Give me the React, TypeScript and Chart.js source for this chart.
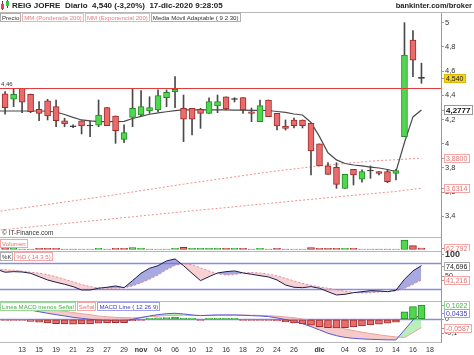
import React, { useEffect, useRef } from 'react';
import { Chart, registerables } from 'chart.js';

Chart.register(...registerables);
const FONT = '"Liberation Sans", Arial, sans-serif';
Chart.defaults.font.family = FONT;

// ---------- data ----------
const calendar = [
  '2020-10-08', '2020-10-09', '2020-10-12', '2020-10-13', '2020-10-14', '2020-10-15', '2020-10-16',
  '2020-10-19', '2020-10-20', '2020-10-21', '2020-10-22', '2020-10-23', '2020-10-26', '2020-10-27',
  '2020-10-28', '2020-10-29', '2020-10-30', '2020-11-02', '2020-11-03', '2020-11-04', '2020-11-05',
  '2020-11-06', '2020-11-09', '2020-11-10', '2020-11-11', '2020-11-12', '2020-11-13', '2020-11-16',
  '2020-11-17', '2020-11-18', '2020-11-19', '2020-11-20', '2020-11-23', '2020-11-24', '2020-11-25',
  '2020-11-26', '2020-11-27', '2020-11-30', '2020-12-01', '2020-12-02', '2020-12-03', '2020-12-04',
  '2020-12-07', '2020-12-08', '2020-12-09', '2020-12-10', '2020-12-11', '2020-12-14', '2020-12-15',
  '2020-12-16', '2020-12-17', '2020-12-18',
];

const open = [
  4.40, 4.411, 4.367, 4.458, 4.408, 4.284, 4.355, 4.306, 4.188, 4.140, 4.188, 4.146, 4.152, 4.298,
  4.229, 4.036, 4.218, 4.237, 4.270, 4.279, 4.380, 4.430, 4.293, 4.293, 4.284, 4.251, 4.312, 4.388,
  4.365, 4.380, 4.264, 4.182, 4.361, 4.251, 4.146, 4.196, 4.196, 4.169, 3.998, 3.816, 3.805, 3.631,
  3.788, 3.706, 3.774, 3.769, 3.769, 3.755, 4.058, 4.857, 4.540,
];
const high = [
  4.45, 4.430, 4.450, 4.458, 4.410, 4.347, 4.367, 4.361, 4.210, 4.155, 4.190, 4.188, 4.361, 4.300,
  4.229, 4.155, 4.458, 4.438, 4.388, 4.444, 4.444, 4.554, 4.402, 4.293, 4.293, 4.378, 4.402, 4.388,
  4.380, 4.380, 4.295, 4.361, 4.361, 4.251, 4.196, 4.212, 4.196, 4.169, 3.998, 3.843, 3.843, 3.747,
  3.788, 3.783, 3.816, 3.769, 3.783, 3.788, 5.000, 4.934, 4.665,
];
const low = [
  4.36, 4.243, 4.306, 4.256, 4.256, 4.190, 4.196, 4.140, 4.140, 4.132, 4.080, 4.058, 4.140, 4.149,
  4.003, 4.008, 4.140, 4.223, 4.251, 4.264, 4.306, 4.298, 4.017, 4.072, 4.127, 4.251, 4.256, 4.279,
  4.345, 4.251, 4.182, 4.182, 4.223, 4.113, 4.113, 4.130, 4.130, 3.741, 3.816, 3.747, 3.631, 3.631,
  3.659, 3.683, 3.714, 3.741, 3.678, 3.700, 4.058, 4.554, 4.499,
];
const close = [
  4.42, 4.298, 4.408, 4.342, 4.264, 4.251, 4.229, 4.190, 4.163, 4.140, 4.146, 4.146, 4.237, 4.149,
  4.107, 4.091, 4.293, 4.306, 4.298, 4.397, 4.425, 4.450, 4.202, 4.202, 4.251, 4.347, 4.347, 4.287,
  4.365, 4.279, 4.251, 4.314, 4.223, 4.146, 4.127, 4.149, 4.149, 3.940, 3.816, 3.747, 3.664, 3.747,
  3.741, 3.769, 3.774, 3.755, 3.686, 3.777, 4.733, 4.690, 4.540,
];
const volume = [
  20000, 60000, 60000, 15000, 15000, 60000, 60000, 60000, 15000, 15000, 15000, 15000, 60000, 20000,
  60000, 60000, 90000, 60000, 15000, 15000, 20000, 60000, 100000, 60000, 60000, 60000, 60000, 60000,
  60000, 60000, 20000, 60000, 15000, 60000, 15000, 15000, 15000, 90000, 60000, 60000, 60000, 60000,
  60000, 20000, 15000, 15000, 15000, 15000, 440000, 180000, 62792,
];
const wma200 = [
  3.438, 3.448, 3.458, 3.468, 3.478, 3.488, 3.498, 3.508, 3.518, 3.528, 3.538, 3.548, 3.558, 3.568,
  3.579, 3.590, 3.601, 3.612, 3.622, 3.633, 3.644, 3.655, 3.665, 3.676, 3.686, 3.696, 3.706, 3.716,
  3.726, 3.736, 3.746, 3.756, 3.765, 3.775, 3.783, 3.791, 3.800, 3.808, 3.816, 3.824, 3.830, 3.836,
  3.843, 3.849, 3.855, 3.861, 3.864, 3.867, 3.872, 3.876, 3.880,
];
const ema200 = [
  3.284, 3.291, 3.298, 3.305, 3.312, 3.319, 3.326, 3.333, 3.340, 3.347, 3.354, 3.361, 3.368, 3.375,
  3.382, 3.389, 3.396, 3.403, 3.410, 3.417, 3.424, 3.431, 3.438, 3.445, 3.452, 3.459, 3.465, 3.472,
  3.479, 3.486, 3.493, 3.500, 3.506, 3.513, 3.520, 3.527, 3.534, 3.540, 3.547, 3.554, 3.560, 3.567,
  3.573, 3.580, 3.586, 3.593, 3.599, 3.605, 3.615, 3.623, 3.6314,
];
const ama = [
  4.270, 4.270, 4.270, 4.270, 4.270, 4.270, 4.268, 4.262, 4.241, 4.217, 4.196, 4.188, 4.182, 4.182,
  4.182, 4.184, 4.208, 4.225, 4.243, 4.254, 4.264, 4.273, 4.279, 4.280, 4.280, 4.280, 4.279, 4.279,
  4.278, 4.277, 4.276, 4.275, 4.274, 4.266, 4.258, 4.245, 4.237, 4.175, 4.058, 3.925, 3.866, 3.836,
  3.824, 3.816, 3.807, 3.799, 3.787, 3.770, 4.010, 4.221, 4.2777,
];
const stochK = [
  66, 59.4, 60.7, 60.0, 57.0, 49.2, 41.6, 36.3, 31.6, 26.1, 18.5, 18.5, 22.4, 24.7, 27.7, 23.8, 40.0,
  57.0, 68.6, 74.6, 85.5, 90.1, 74.6, 57.0, 40.0, 49.2, 57.7, 60.7, 62.4, 57.7, 54.7, 51.5, 48.5,
  41.6, 30.0, 24.7, 23.8, 26.1, 22.4, 14.5, 6.9, 8.5, 12.2, 14.5, 16.9, 16.2, 14.5, 17.8, 43.2, 62.4,
  74.696,
];
const stochD = [
  67, 65, 64, 62, 59.5, 57.3, 53.7, 48.8, 43.1, 37.0, 30.8, 26.2, 23.4, 22.0, 22.4, 23.4, 27.7, 34.6,
  43.4, 52.8, 65.1, 75.2, 78.7, 76.4, 69.4, 62.2, 55.7, 52.9, 54.0, 57.5, 58.6, 57.4, 55.0, 50.8,
  45.3, 39.3, 33.7, 29.2, 25.4, 22.3, 18.7, 15.7, 12.9, 11.3, 11.8, 13.7, 14.9, 16.0, 21.7, 30.8,
  41.216,
];
const macdLine = [
  0.097, 0.09, 0.082, 0.075, 0.066, 0.054, 0.043, 0.033, 0.024, 0.014, 0.007, 0.0, -0.005, -0.008,
  -0.01, -0.012, 0.0, 0.012, 0.024, 0.033, 0.04, 0.043, 0.038, 0.031, 0.026, 0.029, 0.031, 0.031,
  0.031, 0.029, 0.026, 0.024, 0.019, 0.01, -0.002, -0.014, -0.031, -0.052, -0.076, -0.1, -0.117,
  -0.129, -0.136, -0.14, -0.143, -0.145, -0.147, -0.147, -0.076, -0.005, 0.0435,
];
const macdSignal = [
  0.101, 0.095, 0.088, 0.083, 0.081, 0.074, 0.069, 0.064, 0.057, 0.048, 0.040, 0.033, 0.023, 0.018,
  0.014, 0.012, 0.010, 0.014, 0.019, 0.023, 0.027, 0.028, 0.030, 0.027, 0.028, 0.028, 0.029, 0.029,
  0.030, 0.030, 0.029, 0.028, 0.026, 0.022, 0.017, 0.011, 0.002, -0.010, -0.024, -0.040, -0.055,
  -0.069, -0.081, -0.092, -0.102, -0.111, -0.119, -0.126, -0.130, -0.095, -0.0587,
];
const macdHist = [
  -0.004, -0.005, -0.006, -0.008, -0.015, -0.02, -0.026, -0.031, -0.033, -0.034, -0.033, -0.033,
  -0.028, -0.026, -0.024, -0.024, -0.01, -0.002, 0.005, 0.01, 0.013, 0.015, 0.008, 0.004, -0.002,
  0.001, 0.002, 0.002, 0.001, -0.001, -0.003, -0.004, -0.007, -0.012, -0.019, -0.025, -0.033,
  -0.042, -0.052, -0.06, -0.062, -0.06, -0.055, -0.048, -0.041, -0.034, -0.028, -0.021, 0.054, 0.09,
  0.1022,
];
const resistanceLevel = 4.46;
const priceTicks = [3.4, 3.6, 3.8, 4, 4.2, 4.4, 4.6, 4.8, 5];
const stochTicks = [50, 100];
const stochBands = [20, 80];
const macdTicks = [-0.1, 0, 0.1];
const axisDates = [
  '2020-10-13', '2020-10-15', '2020-10-19', '2020-10-21', '2020-10-23', '2020-10-27', '2020-10-29',
  '2020-11-02', '2020-11-04', '2020-11-06', '2020-11-10', '2020-11-12', '2020-11-16', '2020-11-18',
  '2020-11-20', '2020-11-24', '2020-11-26', '2020-12-01', '2020-12-04', '2020-12-08', '2020-12-10',
  '2020-12-14', '2020-12-16', '2020-12-18',
];
const axisLabels = [
  '13', '15', '19', '21', '23', '27', '29', 'nov', '04', '06', '10', '12', '16', '18', '20', '24', '26',
  'dic', '04', '08', '10', '14', '16', '18',
];

// ---------- layout constants ----------
const W = 474;
const AXIS_W = 33;
const X_MIN = 0.4;
const X_MAX = 52.3;
const RED = '#e96b6b';
const RED_B = '#9c2b2b';
const GREEN = '#4fd74f';
const GREEN_B = '#268a26';
const DOJI = '#333333';
const AXIS_C = '#9a9a9a';
const SEP_C = '#b8b8b8';

const comma = (v: number, d: number) => v.toFixed(d).replace('.', ',');
const tickFmt = (v: number) => String(Math.round(v * 100) / 100).replace('.', ',');
const pts = (arr: number[]) => arr.map((y, i) => ({ x: i, y }));

const hiddenX = {
  type: 'linear', min: X_MIN, max: X_MAX, offset: false, bounds: 'data', display: false,
  grid: { display: false, offset: false },
};

function yAxis(min: number, max: number, ticks: number[], font: any) {
  return {
    type: 'linear', position: 'right', min, max, bounds: 'data',
    afterFit: (s: any) => { s.width = AXIS_W; s.paddingTop = 0; s.paddingBottom = 0; },
    afterBuildTicks: (s: any) => { s.ticks = ticks.map((v) => ({ value: v })); },
    border: { display: true, color: AXIS_C, width: 1 },
    grid: { display: true, drawOnChartArea: false, drawTicks: true, tickLength: 3, color: AXIS_C },
    ticks: {
      display: ticks.length > 0, autoSkip: false, padding: 1, color: '#333',
      font, callback: (v: number) => tickFmt(v),
    },
  };
}

function baseOptions(scales: any) {
  return {
    responsive: false, animation: false, devicePixelRatio: 1, events: [],
    layout: { padding: 0 },
    plugins: { legend: { display: false }, tooltip: { enabled: false } },
    scales,
  };
}

type TagSpec = { value: number; text: string; bg: string; border: string; color: string; weight?: string; size?: number };
function tagsPlugin(scaleId: string, tags: TagSpec[]) {
  return {
    id: 'tags_' + scaleId,
    afterDraw(chart: any) {
      const { ctx, chartArea } = chart;
      const scale = chart.scales[scaleId];
      tags.forEach((t) => {
        const size = t.size ?? 7;
        ctx.save();
        ctx.font = `${t.weight ?? 'normal'} ${size}px ${FONT}`;
        const w = Math.ceil(ctx.measureText(t.text).width) + 4;
        const h = Math.round(size + 2);
        const cy = Math.round(scale.getPixelForValue(t.value));
        const x = chartArea.right + 3;
        const y = cy - Math.floor(h / 2);
        ctx.strokeStyle = AXIS_C;
        ctx.lineWidth = 1;
        ctx.beginPath();
        ctx.moveTo(chartArea.right, cy + 0.5);
        ctx.lineTo(x, cy + 0.5);
        ctx.stroke();
        ctx.fillStyle = t.bg;
        ctx.fillRect(x, y, w, h);
        if (t.border !== 'none') {
          ctx.strokeStyle = t.border;
          ctx.strokeRect(x + 0.5, y + 0.5, w - 1, h - 1);
        }
        ctx.fillStyle = t.color;
        ctx.textAlign = 'left';
        ctx.textBaseline = 'middle';
        ctx.fillText(t.text, x + 2, y + h / 2 + 0.5);
        ctx.restore();
      });
    },
  };
}

const topRule = {
  id: 'topRule',
  afterDraw(chart: any) {
    const { ctx, chartArea: a } = chart;
    ctx.save();
    ctx.strokeStyle = SEP_C;
    ctx.lineWidth = 1;
    ctx.beginPath();
    ctx.moveTo(a.left, a.top + 0.5);
    ctx.lineTo(a.right, a.top + 0.5);
    ctx.stroke();
    ctx.restore();
  },
};

function levelLines(scaleId: string, values: number[], color: string, width: number) {
  return {
    id: 'levels_' + scaleId,
    beforeDatasetsDraw(chart: any) {
      const { ctx, chartArea: a } = chart;
      const s = chart.scales[scaleId];
      ctx.save();
      ctx.strokeStyle = color;
      ctx.lineWidth = width;
      values.forEach((v) => {
        const y = Math.round(s.getPixelForValue(v)) + 0.5;
        ctx.beginPath();
        ctx.moveTo(a.left, y);
        ctx.lineTo(a.right, y);
        ctx.stroke();
      });
      ctx.restore();
    },
  };
}

const last = (a: number[]) => a[a.length - 1];
const bodyFill = close.map((c, i) => (c > open[i] ? GREEN : c < open[i] ? RED : DOJI));
const bodyBorder = close.map((c, i) => (c > open[i] ? GREEN_B : c < open[i] ? RED_B : DOJI));
const volUp = close.map((c, i) => (i === 0 ? c >= open[i] : c >= close[i - 1]));

// ---------- main price panel ----------
function buildMain() {
  const mainDecor = {
    id: 'mainDecor',
    afterDatasetsDraw(chart: any) {
      const { ctx, chartArea: a } = chart;
      const y = Math.round(chart.scales.y.getPixelForValue(resistanceLevel)) + 0.5;
      ctx.save();
      ctx.strokeStyle = '#e23b3b';
      ctx.lineWidth = 1;
      ctx.beginPath();
      ctx.moveTo(a.left, y);
      ctx.lineTo(a.right, y);
      ctx.stroke();
      ctx.fillStyle = '#333';
      ctx.font = `6px ${FONT}`;
      ctx.textBaseline = 'bottom';
      ctx.fillText(comma(resistanceLevel, 2), 1, y - 1);
      ctx.font = `6.5px ${FONT}`;
      ctx.fillText('\u00a9 IT-Finance.com', 2, a.bottom - 1);
      ctx.restore();
    },
  };
  return {
    type: 'bar',
    data: {
      datasets: [
        { type: 'line', data: pts(wma200), borderColor: '#f08e8e', borderWidth: 1, borderDash: [2, 2], pointRadius: 0, order: 5 },
        { type: 'line', data: pts(ema200), borderColor: '#f08e8e', borderWidth: 1, borderDash: [2, 2], pointRadius: 0, order: 5 },
        { type: 'line', data: pts(ama), borderColor: '#4a4a4a', borderWidth: 1.2, pointRadius: 0, order: 4 },
        {
          type: 'bar', data: low.map((l, i) => ({ x: i, y: [l, high[i]] })), backgroundColor: '#4a4a4a',
          barThickness: 1, grouped: false, order: 2,
        },
        {
          type: 'bar', data: open.map((o, i) => ({ x: i, y: [o, close[i]] })), backgroundColor: bodyFill,
          borderColor: bodyBorder, borderWidth: 1, borderSkipped: false, barThickness: 6, minBarLength: 1,
          grouped: false, order: 1,
        },
      ],
    },
    options: baseOptions({
      x: hiddenX,
      y: yAxis(3.229, 5.088, priceTicks, { size: 7.5 }),
    }),
    plugins: [
      mainDecor,
      tagsPlugin('y', [
        { value: last(close), text: comma(last(close), 3), bg: '#f6d21e', border: '#e0b800', color: '#222', size: 7 },
        { value: last(ama), text: comma(last(ama), 4), bg: '#fff', border: '#999', color: '#111', weight: 'bold', size: 8 },
        { value: last(wma200), text: comma(last(wma200), 4), bg: '#fff', border: '#f2a6a6', color: '#e07474', size: 7 },
        { value: last(ema200), text: comma(last(ema200), 4), bg: '#fff', border: '#f2a6a6', color: '#e07474', size: 7 },
      ]),
    ],
  };
}

// ---------- volume panel ----------
function buildVolume() {
  return {
    type: 'bar',
    data: {
      datasets: [
        {
          data: pts(volume), backgroundColor: volUp.map((u) => (u ? GREEN : RED)),
          borderColor: volUp.map((u) => (u ? GREEN_B : RED_B)), borderWidth: 1, borderSkipped: false,
          barThickness: 7, grouped: false,
        },
      ],
    },
    options: baseOptions({ x: hiddenX, y: yAxis(-70000, 583750, [], { size: 7 }) }),
    plugins: [
      topRule,
      tagsPlugin('y', [
        { value: last(volume), text: last(volume).toLocaleString('en-US'), bg: '#fff', border: '#f2a6a6', color: '#e07474', size: 7 },
      ]),
    ],
  };
}

// ---------- stochastic panel ----------
function buildStoch() {
  return {
    type: 'line',
    data: {
      datasets: [
        {
          data: pts(stochK), borderColor: '#1c1c4e', borderWidth: 1, pointRadius: 0, order: 1,
          fill: { target: 1, above: 'rgba(112,112,206,0.6)', below: 'rgba(241,166,166,0.5)' },
        },
        { data: pts(stochD), borderColor: '#ec8a8a', borderWidth: 1, borderDash: [2, 2], pointRadius: 0, order: 2, fill: false },
      ],
    },
    options: baseOptions({
      x: hiddenX,
      y: yAxis(-6.99, 108.39, stochTicks, (c: any) =>
        c.tick && c.tick.value === 100 ? { size: 9, weight: 'bold' } : { size: 7 }),
    }),
    plugins: [
      topRule,
      levelLines('y', stochBands, '#8a8ae6', 1.5),
      tagsPlugin('y', [
        { value: last(stochK), text: comma(last(stochK), 3), bg: '#fff', border: '#aaa', color: '#222', size: 7 },
        { value: last(stochD), text: comma(last(stochD), 3), bg: '#fff', border: '#f2a6a6', color: '#e07474', size: 7 },
      ]),
    ],
  };
}

// ---------- MACD panel ----------
function buildMacd() {
  const bottomX = {
    type: 'linear', min: X_MIN, max: X_MAX, offset: false, bounds: 'data', position: 'bottom',
    afterFit: (s: any) => { s.height = 13; s.paddingLeft = 0; s.paddingRight = 0; },
    afterBuildTicks: (s: any) => { s.ticks = axisDates.map((d) => ({ value: calendar.indexOf(d) })); },
    border: { display: true, color: SEP_C },
    grid: { display: true, drawOnChartArea: false, drawTicks: false, offset: false, color: SEP_C },
    ticks: {
      autoSkip: false, maxRotation: 0, minRotation: 0, padding: 4, color: '#333',
      font: (c: any) => ({ size: 7, weight: c.index !== undefined && (axisLabels[c.index] === 'nov' || axisLabels[c.index] === 'dic') ? 'bold' : 'normal' }),
      callback: (_v: number, i: number) => axisLabels[i],
    },
  };
  return {
    type: 'bar',
    data: {
      datasets: [
        {
          type: 'bar', data: pts(macdHist), backgroundColor: macdHist.map((h) => (h >= 0 ? GREEN : RED)),
          borderColor: macdHist.map((h) => (h >= 0 ? GREEN_B : RED_B)), borderWidth: 1, borderSkipped: false,
          barThickness: 7, minBarLength: 1, grouped: false, order: 0,
        },
        {
          type: 'line', data: pts(macdLine), borderColor: '#5656d6', borderWidth: 1, pointRadius: 0, order: 1,
          fill: { target: 2, above: 'rgba(140,226,140,0.6)', below: 'rgba(241,166,166,0.6)' },
        },
        { type: 'line', data: pts(macdSignal), borderColor: '#f09a9a', borderWidth: 1, pointRadius: 0, order: 2, fill: false },
      ],
    },
    options: baseOptions({ x: bottomX, y: yAxis(-0.1621, 0.1307, macdTicks, { size: 7 }) }),
    plugins: [
      topRule,
      levelLines('y', [0], '#8a8ae6', 1.5),
      tagsPlugin('y', [
        { value: last(macdHist), text: comma(last(macdHist), 4), bg: '#fff', border: '#9bd89b', color: '#44b044', size: 7 },
        { value: last(macdLine), text: comma(last(macdLine), 4), bg: '#fff', border: '#a0a0e8', color: '#3c3cc0', size: 7 },
        { value: last(macdSignal), text: comma(last(macdSignal), 4), bg: '#fff', border: '#f2a6a6', color: '#e07474', size: 7 },
      ]),
    ],
  };
}

function ChartCanvas({ top, height, build }: { top: number; height: number; build: () => any }) {
  const ref = useRef<HTMLCanvasElement>(null);
  useEffect(() => {
    const chart = new Chart(ref.current as HTMLCanvasElement, build());
    return () => chart.destroy();
  }, []);
  return (
    <canvas
      ref={ref}
      width={W}
      height={height}
      style={{ position: 'absolute', left: 0, top, width: W, height, display: 'block' }}
    />
  );
}

function Box({ color, border, children }: any) {
  return (
    <div
      style={{
        height: 7, lineHeight: '7px', padding: '0 1px', border: `1px solid ${border}`, color,
        background: '#fff', fontSize: 6.1, whiteSpace: 'pre', fontFamily: FONT, flex: 'none',
      }}
    >
      {children}
    </div>
  );
}

function Row({ left, top, children }: any) {
  return (
    <div style={{ position: 'absolute', left, top, display: 'flex', gap: 1 }}>{children}</div>
  );
}

export default function App() {
  return (
    <div
      style={{
        position: 'fixed', left: 0, top: 0, width: W, height: 355, background: '#fff',
        overflow: 'hidden', fontFamily: FONT,
      }}
    >
      <ChartCanvas top={12} height={225} build={buildMain} />
      <ChartCanvas top={237} height={14} build={buildVolume} />
      <ChartCanvas top={251} height={50} build={buildStoch} />
      <ChartCanvas top={301} height={54} build={buildMacd} />

      <div style={{ position: 'absolute', left: 0, top: 12, width: W, height: 1, background: SEP_C }} />
      <div style={{ position: 'absolute', left: 2, top: 1, width: 1, height: 9, background: '#444' }} />
      <div style={{ position: 'absolute', left: 1, top: 4, width: 3, height: 5, background: '#e04848' }} />
      <div style={{ position: 'absolute', left: 7, top: 0, width: 1, height: 8, background: '#444' }} />
      <div style={{ position: 'absolute', left: 6, top: 1, width: 3, height: 5, background: '#3cc43c' }} />
      <div
        style={{
          position: 'absolute', left: 12, top: 1, fontSize: 8, fontWeight: 'bold', color: '#222',
          whiteSpace: 'pre', lineHeight: '10px',
        }}
      >
        {'REIG JOFRE  Diario  4,540 (-3,20%)  17-dic-2020 9:28:05'}
      </div>
      <div
        style={{
          position: 'absolute', right: 2, top: 1, fontSize: 7.5, fontWeight: 'bold', color: '#222',
          whiteSpace: 'pre', lineHeight: '10px',
        }}
      >
        bankinter.com/broker
      </div>

      <Row left={0} top={13}>
        <Box color="#333" border="#b0b0b0">Precio</Box>
        <Box color="#e88080" border="#f2b0b0">MM (Ponderada 200)</Box>
        <Box color="#e88080" border="#f2b0b0">MM (Exponencial 200)</Box>
        <Box color="#333" border="#b0b0b0">Media Móvil Adaptable ( 9 2 30)</Box>
      </Row>

      <Row left={0} top={239}>
        <Box color="#e07474" border="#f2a6a6">Volumen</Box>
      </Row>
      <Row left={0} top={252}>
        <Box color="#333" border="#b0b0b0">%K</Box>
        <Box color="#e07474" border="#f2a6a6">%D ( 14 3 5)</Box>
      </Row>
      <Row left={0} top={302}>
        <Box color="#44b044" border="#9bd89b">Linea MACD menos Señal</Box>
        <Box color="#e07474" border="#f2a6a6">Señal</Box>
        <Box color="#3c3cc0" border="#a0a0e8">MACD Line ( 12 26 9)</Box>
      </Row>
    </div>
  );
}
